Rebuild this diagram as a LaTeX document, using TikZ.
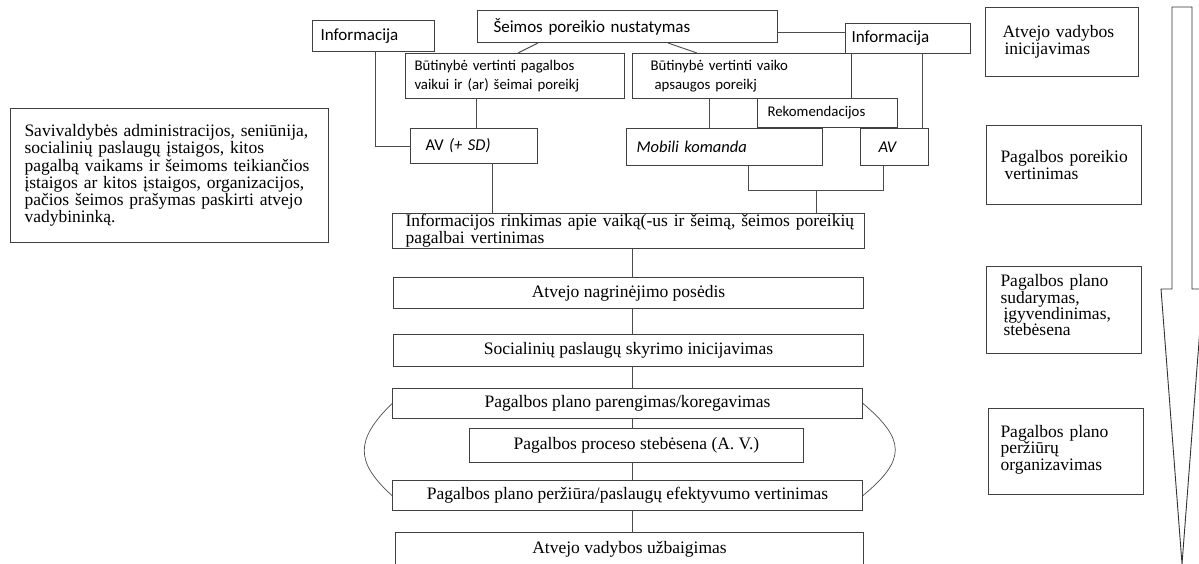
\documentclass[tikz,border=0pt]{standalone}
\usepackage{fontspec}
\setmainfont{Liberation Serif}
\newfontfamily\calfont{Carlito}
\usetikzlibrary{calc}
\begin{document}
\begin{tikzpicture}[x=1pt,y=-1pt,
  frame/.style={draw=black!75, line width=1pt, inner ysep=0pt, anchor=north west},
  link/.style={draw=black!70, line width=0.9pt},
  sansbig/.style={font=\calfont\fontsize{17}{19}\selectfont},
  sansmid/.style={font=\calfont\fontsize{16.5}{19}\selectfont},
  sanssmall/.style={font=\calfont\fontsize{14.8}{19}\selectfont},
  serifbox/.style={font=\fontsize{17.5}{16.6}\selectfont},
  leftbox/.style={align=left},
  midbox/.style={align=center, inner xsep=0pt},
]
\useasboundingbox (0,0) rectangle (1199,564);

% --- top row: sources of information and need identification
\node[frame, sansbig, leftbox, minimum width=122pt, minimum height=31pt,
      inner xsep=8pt, text width=106pt] (info1) at (312,20) {Informacija};
\node[frame, sansbig, leftbox, minimum width=300pt, minimum height=32pt,
      inner xsep=16pt, text width=268pt] (needs) at (477,10) {Šeimos poreikio nustatymas};
\node[frame, sansbig, leftbox, minimum width=125pt, minimum height=30pt,
      inner xsep=6pt, text width=113pt] (info2) at (845,23) {Informacija};

\node[frame, sanssmall, leftbox, minimum width=219pt, minimum height=45pt,
      inner xsep=9pt, text width=201pt] (need1) at (405,53)
      {\mbox{Būtinybė vertinti pagalbos}\\\mbox{vaikui ir (ar) šeimai poreikj}};
\node[frame, sanssmall, leftbox, minimum width=219pt, minimum height=45pt,
      inner xsep=18pt, text width=183pt] (need2) at (632,53)
      {\mbox{Būtinybė vertinti vaiko}\\\mbox{\hspace{4pt}apsaugos poreikj}};
\node[frame, sanssmall, leftbox, minimum width=140pt, minimum height=29pt,
      inner xsep=10pt, text width=120pt] (rec) at (757,98) {Rekomendacijos};

% --- assessors
\node[frame, sansmid, leftbox, minimum width=127pt, minimum height=35pt,
      inner xsep=15pt, text width=97pt] (avsd) at (410,128) {AV \textit{(+ SD)}};
\node[frame, sansmid, leftbox, minimum width=196pt, minimum height=37pt,
      inner xsep=10pt, text width=176pt] (mobile) at (626,128) {\textit{Mobili komanda}};
\node[frame, sansmid, leftbox, minimum width=68pt, minimum height=37pt,
      inner xsep=18pt, text width=32pt] (av) at (860,128) {\textit{AV}};

% --- main process chain
\node[frame, serifbox, leftbox, minimum width=472pt, minimum height=35pt,
      inner xsep=13pt, text width=446pt] (collect) at (392,213)
      {\mbox{Informacijos rinkimas apie vaiką(-us ir šeimą, šeimos poreikių}\\\mbox{pagalbai vertinimas}};
\node[frame, serifbox, midbox, minimum width=470pt, minimum height=31pt] (meeting) at (393,277)
      {Atvejo nagrinėjimo posėdis};
\node[frame, serifbox, midbox, minimum width=470pt, minimum height=32pt] (social) at (393,334)
      {Socialinių paslaugų skyrimo inicijavimas};
\node[frame, serifbox, midbox, minimum width=470pt, minimum height=30pt] (plan) at (392,388)
      {Pagalbos plano parengimas/koregavimas};
\node[frame, serifbox, midbox, minimum width=334pt, minimum height=34pt] (monitor) at (469,428)
      {Pagalbos proceso stebėsena (A. V.)};
\node[frame, serifbox, midbox, minimum width=470pt, minimum height=30pt] (review) at (392,480)
      {Pagalbos plano peržiūra/paslaugų efektyvumo vertinimas};
\node[frame, serifbox, midbox, minimum width=468pt, minimum height=34pt] (closing) at (395,532)
      {Atvejo vadybos užbaigimas};

% --- who may start a case
\node[frame, serifbox, leftbox, minimum width=318pt, minimum height=134pt,
      inner xsep=14pt, text width=290pt, font=\fontsize{17.5}{17.3}\selectfont] (starters) at (10,108)
      {\mbox{Savivaldybės administracijos, seniūnija,}\\
       \mbox{socialinių paslaugų įstaigos, kitos}\\
       \mbox{pagalbą vaikams ir šeimoms teikiančios}\\
       \mbox{įstaigos ar kitos įstaigos, organizacijos,}\\
       \mbox{pačios šeimos prašymas paskirti atvejo}\\
       \mbox{vadybininką.}};

% --- stage column
\node[frame, serifbox, leftbox, minimum width=153pt, minimum height=69pt,
      inner xsep=17pt, text width=119pt] (stage1) at (985,7)
      {\mbox{Atvejo vadybos}\\\mbox{\hspace{2pt}inicijavimas}};
\node[frame, serifbox, leftbox, minimum width=155pt, minimum height=79pt,
      inner xsep=14pt, text width=127pt] (stage2) at (986,125)
      {\mbox{Pagalbos poreikio}\\\mbox{\hspace{4pt}vertinimas}};
\node[frame, leftbox, minimum width=155pt, minimum height=87pt,
      inner xsep=14pt, text width=127pt, font=\fontsize{17.5}{16.3}\selectfont] (stage3) at (986,266)
      {\mbox{Pagalbos plano}\\\mbox{sudarymas,}\\\mbox{\hspace{3pt}įgyvendinimas,}\\\mbox{\hspace{3pt}stebėsena}\\[-7pt]\mbox{}};
\node[frame, leftbox, minimum width=155pt, minimum height=86pt,
      inner xsep=12pt, text width=131pt, font=\fontsize{17.5}{16.3}\selectfont] (stage4) at (988,408)
      {\mbox{Pagalbos plano}\\\mbox{peržiūrų}\\\mbox{organizavimas}\\[-9pt]\mbox{}};

% --- time arrow along the stages
\draw[draw=black!80, line width=0.9pt, fill=white]
  (1172,7) -- (1192,7) -- (1192,289) -- (1203,289) -- (1182,564)
  -- (1161,289) -- (1172,289) -- cycle;

% --- connectors, top part
\coordinate (sx) at ([yshift=-6pt]needs.east);
\draw[link] (sx) -- (sx -| info2.west);
\draw[link] ([xshift=61pt]needs.south west) -- ([xshift=113pt]need1.north west);
\draw[link] ([xshift=191pt]needs.south west) -- ([xshift=65pt]need2.north west);

\coordinate (info1foot) at ([xshift=2pt]info1.south);
\draw[link] (info1foot) |- (avsd.west);
\coordinate (avsdtop) at ([xshift=2pt]avsd.north);
\draw[link] (avsdtop |- need1.south) -- (avsdtop);
\coordinate (mobtop) at ([xshift=-15pt]mobile.north);
\draw[link] (mobtop |- need2.south) -- (mobtop);
\coordinate (avtop) at ([xshift=28pt]av.north);
\draw[link] (avtop |- info2.south) -- (avtop);

\coordinate (join) at (0,190);
\coordinate (mobfoot) at ([xshift=24pt]mobile.south);
\coordinate (avfoot) at ([xshift=-11pt]av.south);
\draw[link] (mobfoot) |- (avfoot |- join) -- (avfoot);
\coordinate (joinmid) at ($(mobfoot |- join)!0.5!(avfoot |- join)$);
\draw[link] (joinmid) -- (joinmid |- collect.north);
\coordinate (avsdfoot) at ([xshift=18pt]avsd.south);
\draw[link] (avsdfoot) -- (avsdfoot |- collect.north);

% --- main chain spine
\coordinate (spine) at (632,0);
\draw[link] (collect.south -| spine) -- (meeting.north -| spine);
\draw[link] (meeting.south -| spine) -- (social.north -| spine);
\draw[link] (social.south -| spine) -- (plan.north -| spine);
\draw[link] (plan.south -| spine) -- (monitor.north -| spine);
\draw[link] (monitor.south -| spine) -- (review.north -| spine);
\draw[link] (review.south -| spine) -- (closing.north -| spine);

% --- review loop
\draw[link, line width=0.7pt] (plan.west) .. controls (355,440) and (355,462) .. (review.west);
\draw[link, line width=0.7pt] (plan.east) .. controls (906,440) and (906,460) .. (review.east);
\end{tikzpicture}
\end{document}
